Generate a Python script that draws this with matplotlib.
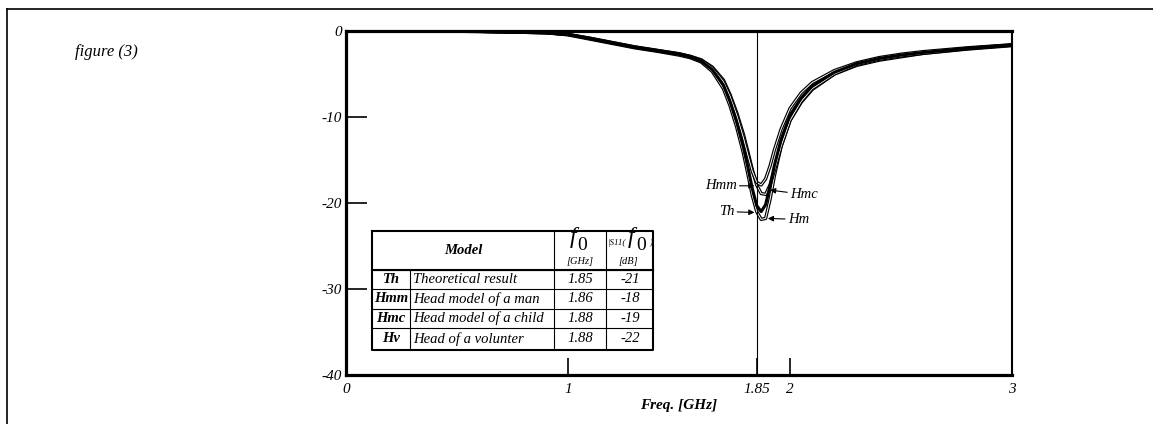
import matplotlib.pyplot as plt

plt.rcParams['font.family'] = ['Liberation Serif', 'DejaVu Serif']
plt.rcParams['font.style'] = 'italic'

# 频率轴 (GHz) 和四条曲线的 |S11| (dB)
freq = [0.0, 0.3, 0.6, 0.9, 1.0, 1.1, 1.2, 1.3, 1.4, 1.5, 1.55, 1.6, 1.65, 1.7, 1.73,
        1.76, 1.79, 1.81, 1.83, 1.85, 1.87, 1.89, 1.91, 1.93, 1.96, 2.0, 2.05, 2.1,
        2.2, 2.3, 2.4, 2.5, 2.6, 2.8, 3.0]
s11_th = [0, 0, -0.05, -0.2, -0.4, -0.9, -1.4, -1.9, -2.3, -2.7, -3.0, -3.5, -4.5, -6.3, -8.2,
          -10.6, -13.5, -15.8, -18.3, -20.3, -21.0, -20.2, -18.0, -15.6, -12.6, -9.8, -7.8, -6.4,
          -4.8, -3.8, -3.2, -2.8, -2.5, -2.0, -1.6]
s11_hmm = [0, 0, -0.05, -0.2, -0.4, -0.85, -1.35, -1.85, -2.25, -2.65, -2.95, -3.4, -4.3, -5.9, -7.6,
           -9.8, -12.4, -14.4, -16.3, -17.6, -17.9, -17.2, -15.7, -13.8, -11.4, -9.0, -7.2, -6.0,
           -4.6, -3.7, -3.1, -2.7, -2.4, -1.95, -1.6]
s11_hmc = [0, 0, -0.05, -0.2, -0.4, -0.85, -1.35, -1.85, -2.25, -2.65, -2.95, -3.35, -4.2, -5.7, -7.4,
           -9.5, -12.0, -14.0, -16.1, -17.9, -18.9, -19.0, -17.9, -16.2, -13.4, -10.4, -8.2, -6.7,
           -5.0, -3.9, -3.3, -2.9, -2.6, -2.05, -1.65]
s11_hv = [0, 0, -0.05, -0.2, -0.45, -0.95, -1.45, -1.95, -2.35, -2.8, -3.1, -3.6, -4.7, -6.7, -8.7,
          -11.2, -14.2, -16.6, -19.1, -21.0, -21.9, -21.8, -19.6, -16.8, -13.4, -10.4, -8.3, -6.8,
          -5.0, -4.0, -3.4, -3.0, -2.6, -2.1, -1.7]

# 表格内容
tab_abbr = ['Th', 'Hmm', 'Hmc', 'Hv']
tab_model = ['Theoretical result', 'Head model of a man', 'Head model of a child',
             'Head of a volunter']
tab_f0 = ['1.85', '1.86', '1.88', '1.88']
tab_db = ['-21', '-18', '-19', '-22']

fig = plt.figure(figsize=(11.53, 4.24), dpi=100)

# 外框（只有上边和左边）
fig.add_artist(plt.Line2D([7 / 1153, 1], [1 - 9 / 424, 1 - 9 / 424], color='black', lw=1.2))
fig.add_artist(plt.Line2D([7 / 1153, 7 / 1153], [0, 1 - 9 / 424], color='black', lw=1.2))
fig.text(75 / 1153, 1 - 52 / 424, 'figure (3)', fontsize=12, va='center', ha='left')

ax = fig.add_axes([346 / 1153, 49 / 424, 666 / 1153, 344 / 424])
ax.set_xlim(0, 3)
ax.set_ylim(-40, 0)

# 曲线：Th 为粗黑线，其余为带白芯的双线
for vals in [s11_hv, s11_hmc, s11_hmm]:
    ax.plot(freq, vals, color='black', lw=2.4, solid_joinstyle='round')
    ax.plot(freq, vals, color='white', lw=0.7, solid_joinstyle='round')
ax.plot(freq, s11_th, color='black', lw=2.2, solid_joinstyle='round')

ax.axvline(1.85, color='black', lw=0.8)

for side in ['left', 'bottom', 'top']:
    ax.spines[side].set_linewidth(2.3)
ax.spines['right'].set_linewidth(1.5)

ax.set_yticks([0, -10, -20, -30, -40])
ax.set_yticklabels(['0', '-10', '-20', '-30', '-40'])
ax.tick_params(axis='y', direction='in', length=15, width=1.2, pad=3, labelsize=11)
ax.set_xticks([0, 1, 1.85, 2, 3])
ax.set_xticklabels(['0', '1', '1.85', '2', '3'])
ax.tick_params(axis='x', direction='in', length=12, width=1.2, pad=6, labelsize=11)
ax.set_xlabel('Freq. [GHz]', fontsize=11, fontweight='bold', labelpad=2)

# 曲线标注
arrow = dict(arrowstyle='-|>', color='black', lw=0.8, mutation_scale=8, shrinkA=0, shrinkB=0)
ax.annotate('Hmm', xy=(1.84, -18.0), xytext=(1.76, -18.0), ha='right', va='center',
            fontsize=10.5, arrowprops=arrow)
ax.annotate('Hmc', xy=(1.91, -18.5), xytext=(2.0, -19.0), ha='left', va='center',
            fontsize=10.5, arrowprops=arrow)
ax.annotate('Th', xy=(1.84, -21.1), xytext=(1.75, -21.0), ha='right', va='center',
            fontsize=10.5, arrowprops=arrow)
ax.annotate('Hm', xy=(1.9, -21.8), xytext=(1.99, -21.9), ha='left', va='center',
            fontsize=10.5, arrowprops=arrow)

# 表格（按像素位置换算到数据坐标）
def px(x):
    return (x - 346) / 222.0

def py(y):
    return -(y - 31) / 8.6

cols = [372, 410, 554, 606, 653]
rows = [231, 270, 289, 309, 328, 350]
ax.fill_between([px(cols[0]), px(cols[-1])], py(rows[0]), py(rows[-1]), color='white', zorder=3)
lw_in = 0.8
for y in rows[1:-1]:
    ax.plot([px(cols[0]), px(cols[-1])], [py(y), py(y)], color='black', lw=lw_in, zorder=4)
ax.plot([px(cols[0]), px(cols[-1])], [py(rows[1]), py(rows[1])], color='black', lw=1.5, zorder=4)
ax.plot([px(cols[1])] * 2, [py(rows[1]), py(rows[-1])], color='black', lw=lw_in, zorder=4)
for x in cols[2:4]:
    ax.plot([px(x)] * 2, [py(rows[0]), py(rows[-1])], color='black', lw=lw_in, zorder=4)
ax.plot([px(cols[0]), px(cols[-1]), px(cols[-1]), px(cols[0]), px(cols[0])],
        [py(rows[0]), py(rows[0]), py(rows[-1]), py(rows[-1]), py(rows[0])],
        color='black', lw=1.5, zorder=4)

ax.text(px(463), py(250), 'Model', ha='center', va='center', fontsize=10.5,
        fontweight='bold', zorder=5)
ax.text(px(573), py(238), 'f', ha='center', va='center', fontsize=17, zorder=5)
ax.text(px(582), py(245), '0', ha='center', va='center', fontsize=14, style='normal', zorder=5)
ax.text(px(580), py(262), '[GHz]', ha='center', va='center', fontsize=7.5, zorder=5)
ax.text(px(608), py(243), '|S11(', ha='left', va='center', fontsize=6.5, zorder=5)
ax.text(px(631), py(238), 'f', ha='center', va='center', fontsize=17, zorder=5)
ax.text(px(641), py(245), '0', ha='center', va='center', fontsize=14, style='normal', zorder=5)
ax.text(px(649), py(243), ')|', ha='left', va='center', fontsize=6.5, zorder=5)
ax.text(px(628), py(262), '[dB]', ha='center', va='center', fontsize=7.5, zorder=5)

for i in range(len(tab_abbr)):
    yc = py((rows[i + 1] + rows[i + 2]) / 2.0)
    ax.text(px(391), yc, tab_abbr[i], ha='center', va='center', fontsize=10.5,
            fontweight='bold', zorder=5)
    ax.text(px(413), yc, tab_model[i], ha='left', va='center', fontsize=10.5, zorder=5)
    ax.text(px(580), yc, tab_f0[i], ha='center', va='center', fontsize=10.5, zorder=5)
    ax.text(px(630), yc, tab_db[i], ha='center', va='center', fontsize=10.5, zorder=5)

fig.savefig('out.png', dpi=100)
